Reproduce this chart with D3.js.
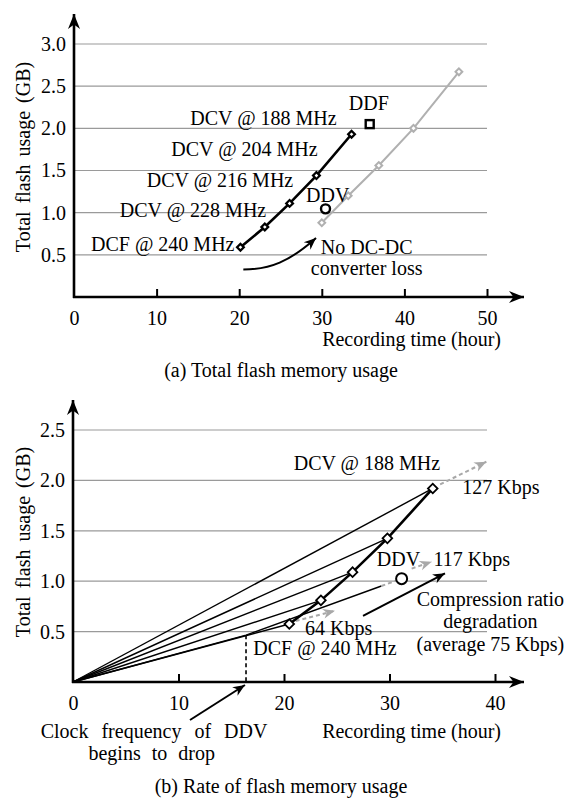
<!DOCTYPE html>
<html>
<head>
<meta charset="utf-8">
<script src="https://cdn.jsdelivr.net/npm/d3@7"></script>
<style>
  body { margin: 0; background: #fff; }
  svg text { font-family: "Liberation Serif", "Times New Roman", serif; font-size: 20px; fill: #000; }
</style>
</head>
<body>
<svg id="chart" width="579" height="800"></svg>
<script>
// (a) total flash memory usage
var topXTicks = [0, 10, 20, 30, 40, 50];
var topYTicks = [0.5, 1.0, 1.5, 2.0, 2.5, 3.0];
var topDcvHours = [20.15, 23.1, 26.1, 29.35, 33.6];
var topDcvGB = [0.59, 0.83, 1.11, 1.44, 1.93];
var topDcvLabels = ["DCF @ 240 MHz", "DCV @ 228 MHz", "DCV @ 216 MHz", "DCV @ 204 MHz", "DCV @ 188 MHz"];
var topNoLossHours = [30.0, 33.2, 36.9, 41.1, 46.6];
var topNoLossGB = [0.88, 1.2, 1.56, 2.0, 2.67];
var topDdfHours = [35.8], topDdfGB = [2.05];
var topDdvHours = [30.45], topDdvGB = [1.045];

// (b) rate of flash memory usage
var botXTicks = [0, 10, 20, 30, 40];
var botYTicks = [0.5, 1.0, 1.5, 2.0, 2.5];
var botDcvHours = [20.5, 23.5, 26.5, 29.8, 34.1];
var botDcvGB = [0.575, 0.81, 1.09, 1.425, 1.92];
var botDdvHours = [0, 16.4, 31.15];
var botDdvGB = [0, 0.465, 1.025];
var rateLabels = ["64 Kbps", "117 Kbps", "127 Kbps"];

var svg = d3.select("#chart");
var defs = svg.append("defs");

function addArrow(id, color, len, half) {
    defs.append("marker")
        .attr("id", id)
        .attr("markerUnits", "userSpaceOnUse")
        .attr("orient", "auto")
        .attr("markerWidth", len + 2).attr("markerHeight", half * 2 + 2)
        .attr("viewBox", (-len - 1) + " " + (-half - 1) + " " + (len + 2) + " " + (half * 2 + 2))
        .attr("refX", 0).attr("refY", 0)
        .append("path")
        .attr("d", "M0,0 L" + (-len) + "," + (-half) + " L" + (-len * 0.7) + ",0 L" + (-len) + "," + half + " Z")
        .attr("fill", color);
}
addArrow("axisArrow", "#000", 15, 6);
addArrow("blackArrow", "#000", 12, 5);
addArrow("grayArrow", "#a8a8a8", 12, 5);

function frame(x, y, xTicks, yTicks, gridEnd, arrowX, arrowTop) {
    var g = svg.append("g");
    // gridlines
    g.selectAll(".grid").data(yTicks).enter().append("line")
        .attr("x1", x(0)).attr("x2", gridEnd)
        .attr("y1", function(d) { return y(d); })
        .attr("y2", function(d) { return y(d); })
        .attr("stroke", "#9a9a9a").attr("stroke-width", 1.2);

    // x ticks + labels
    var xAxis = d3.axisBottom(x).tickValues(xTicks).tickSize(-8).tickPadding(14)
        .tickFormat(d3.format("d"));
    var gx = g.append("g").attr("transform", "translate(0," + y(0) + ")").call(xAxis);
    gx.select(".domain").remove();
    gx.selectAll(".tick line").attr("stroke", "#000").attr("stroke-width", 2);
    gx.selectAll(".tick").filter(function(d) { return d === 0; }).select("line").remove();
    gx.attr("font-size", null).attr("font-family", null);

    // y labels
    var yAxis = d3.axisLeft(y).tickValues(yTicks).tickSize(0).tickPadding(8)
        .tickFormat(d3.format(".1f"));
    var gy = g.append("g").attr("transform", "translate(" + x(0) + ",0)").call(yAxis);
    gy.select(".domain").remove();
    gy.attr("font-size", null).attr("font-family", null);

    // axis lines with arrows
    g.append("line").attr("x1", x(0) - 1).attr("x2", arrowX)
        .attr("y1", y(0)).attr("y2", y(0))
        .attr("stroke", "#000").attr("stroke-width", 2.6).attr("marker-end", "url(#axisArrow)");
    g.append("line").attr("x1", x(0)).attr("x2", x(0))
        .attr("y1", y(0) + 1).attr("y2", arrowTop)
        .attr("stroke", "#000").attr("stroke-width", 2.6).attr("marker-end", "url(#axisArrow)");
    return g;
}

function text(g, label, px, py, anchor, extra) {
    var t = g.append("text").attr("x", px).attr("y", py).attr("text-anchor", anchor || "start").text(label);
    if (extra) t.attr("word-spacing", extra);
    return t;
}

function diamond(h) {
    return d3.symbol(d3.symbolSquare, 2 * h * h)();
}

// ---------- (a) ----------
var xa = d3.scaleLinear().domain([0, 50]).range([74, 487]);
var ya = d3.scaleLinear().domain([0, 3]).range([297, 44]);
var ga = frame(xa, ya, topXTicks, topYTicks, xa(50), 524, 14);

var lineA = d3.line()
    .x(function(d) { return xa(d[0]); })
    .y(function(d) { return ya(d[1]); });

var noLoss = d3.zip(topNoLossHours, topNoLossGB);
ga.append("path").datum(noLoss).attr("d", lineA)
    .attr("fill", "none").attr("stroke", "#b0b0b0").attr("stroke-width", 2);
ga.selectAll(".nl").data(noLoss).enter().append("path")
    .attr("d", diamond(3.4))
    .attr("transform", function(d) { return "translate(" + xa(d[0]) + "," + ya(d[1]) + ") rotate(45)"; })
    .attr("fill", "#fff").attr("stroke", "#b0b0b0").attr("stroke-width", 2);

var dcvA = d3.zip(topDcvHours, topDcvGB);
ga.append("path").datum(dcvA).attr("d", lineA)
    .attr("fill", "none").attr("stroke", "#000").attr("stroke-width", 2.6);
ga.selectAll(".dcv").data(dcvA).enter().append("path")
    .attr("d", diamond(3.4))
    .attr("transform", function(d) { return "translate(" + xa(d[0]) + "," + ya(d[1]) + ") rotate(45)"; })
    .attr("fill", "#fff").attr("stroke", "#000").attr("stroke-width", 2.2);

ga.selectAll(".ddf").data(d3.zip(topDdfHours, topDdfGB)).enter().append("rect")
    .attr("x", function(d) { return xa(d[0]) - 4; })
    .attr("y", function(d) { return ya(d[1]) - 4; })
    .attr("width", 8).attr("height", 8)
    .attr("fill", "#fff").attr("stroke", "#000").attr("stroke-width", 2.4);
ga.selectAll(".ddv").data(d3.zip(topDdvHours, topDdvGB)).enter().append("circle")
    .attr("cx", function(d) { return xa(d[0]); })
    .attr("cy", function(d) { return ya(d[1]); })
    .attr("r", 4.5)
    .attr("fill", "#fff").attr("stroke", "#000").attr("stroke-width", 2.4);

// labels for (a)
var labPosA = [[19.43, 0.551], [23.27, 0.945], [26.54, 1.30], [29.5, 1.668], [31.8, 2.044]];
topDcvLabels.forEach(function(l, i) {
    text(ga, l, xa(labPosA[i][0]), ya(labPosA[i][1]), "end");
});
text(ga, "DDF", xa(35.7), ya(2.22), "middle");
text(ga, "DDV", xa(28.1), ya(1.123), "start");
text(ga, "No DC-DC", xa(29.88), ya(0.515), "start");
text(ga, "converter loss", xa(28.67), ya(0.255), "start");
var c = [[20.5, 0.325], [23.7, 0.325], [26.1, 0.42], [29.3, 0.70]];
ga.append("path")
    .attr("d", "M" + xa(c[0][0]) + "," + ya(c[0][1]) +
        " C" + xa(c[1][0]) + "," + ya(c[1][1]) + " " + xa(c[2][0]) + "," + ya(c[2][1]) +
        " " + xa(c[3][0]) + "," + ya(c[3][1]))
    .attr("fill", "none").attr("stroke", "#000").attr("stroke-width", 2)
    .attr("marker-end", "url(#blackArrow)");

text(ga, "Recording time (hour)", 501, 345.5, "end");
text(ga, "(a) Total flash memory usage", 281, 377, "middle");
ga.append("text").attr("transform", "translate(30,157) rotate(-90)")
    .attr("text-anchor", "middle").attr("word-spacing", 3).text("Total flash usage (GB)");

// ---------- (b) ----------
var xb = d3.scaleLinear().domain([0, 40]).range([73, 495]);
var yb = d3.scaleLinear().domain([0, 2.5]).range([682, 430]);
var gb = frame(xb, yb, botXTicks, botYTicks, 487, 524, 400);

var lineB = d3.line()
    .x(function(d) { return xb(d[0]); })
    .y(function(d) { return yb(d[1]); });

var dcvB = d3.zip(botDcvHours, botDcvGB);
// rays from origin
gb.selectAll(".ray").data(dcvB).enter().append("path")
    .attr("d", function(d) { return lineB([[0, 0], d]); })
    .attr("fill", "none").attr("stroke", "#000").attr("stroke-width", 1.4);

// DDV path: solid up to near the circle, last stretch dashed gray
var ddvB = d3.zip(botDdvHours, botDdvGB);
var ddvBreak = d3.interpolate(ddvB[1], ddvB[2])(0.87);
gb.append("path").datum([ddvB[0], ddvB[1], ddvBreak]).attr("d", lineB)
    .attr("fill", "none").attr("stroke", "#000").attr("stroke-width", 1.4);
gb.append("path").datum([ddvBreak, ddvB[2]]).attr("d", lineB)
    .attr("fill", "none").attr("stroke", "#a8a8a8").attr("stroke-width", 2)
    .attr("stroke-dasharray", "4,3");
gb.append("line")
    .attr("x1", xb(botDdvHours[1])).attr("x2", xb(botDdvHours[1]))
    .attr("y1", yb(botDdvGB[1])).attr("y2", yb(0))
    .attr("stroke", "#000").attr("stroke-width", 1.6).attr("stroke-dasharray", "4,3");

// gray dashed rate arrows
var rateArrows = [
    [[botDcvHours[0] + 0.6, botDcvGB[0] + 0.03], [24.83, 0.707]],
    [[32.1, 1.125], [34.0, 1.193]],
    [[botDcvHours[4] + 0.7, botDcvGB[4] + 0.04], [39.18, 2.185]]
];
gb.selectAll(".rate").data(rateArrows).enter().append("path")
    .attr("d", lineB)
    .attr("fill", "none").attr("stroke", "#a8a8a8").attr("stroke-width", 2)
    .attr("stroke-dasharray", "4,3").attr("marker-end", "url(#grayArrow)");

gb.append("path").datum(dcvB).attr("d", lineB)
    .attr("fill", "none").attr("stroke", "#000").attr("stroke-width", 2.6);
gb.selectAll(".dcvb").data(dcvB).enter().append("path")
    .attr("d", diamond(4.8))
    .attr("transform", function(d) { return "translate(" + xb(d[0]) + "," + yb(d[1]) + ") rotate(45)"; })
    .attr("fill", "#fff").attr("stroke", "#000").attr("stroke-width", 1.8);
gb.append("circle")
    .attr("cx", xb(botDdvHours[2])).attr("cy", yb(botDdvGB[2])).attr("r", 5.5)
    .attr("fill", "#fff").attr("stroke", "#000").attr("stroke-width", 2);

// black annotation arrows
gb.append("path").attr("d", lineB([[27.49, 0.655], [35.26, 1.078]]))
    .attr("stroke", "#000").attr("stroke-width", 2).attr("marker-end", "url(#blackArrow)");
gb.append("path").attr("d", lineB([[11.09, -0.377], [16.3, -0.03]]))
    .attr("stroke", "#000").attr("stroke-width", 2).attr("marker-end", "url(#blackArrow)");

text(gb, "DCV @ 188 MHz", xb(34.8), yb(2.103), "end");
text(gb, rateLabels[2], xb(36.9), yb(1.865), "start");
text(gb, "DDV", xb(28.8), yb(1.151), "start");
text(gb, rateLabels[1], xb(34.17), yb(1.151), "start");
text(gb, "Compression ratio", xb(39.56), yb(0.754), "middle");
text(gb, "degradation", xb(39.56), yb(0.533), "middle");
text(gb, "(average 75 Kbps)", xb(39.56), yb(0.3075), "middle");
text(gb, rateLabels[0], xb(22.0), yb(0.466), "start");
text(gb, "DCF @ 240 MHz", xb(17.09), yb(0.268), "start");
text(gb, "Clock frequency of DDV", xb(7.68), yb(-0.558), "middle", 8);
text(gb, "begins to drop", xb(7.46), yb(-0.774), "middle", 6);

text(gb, "Recording time (hour)", 501, 738, "end");
text(gb, "(b) Rate of flash memory usage", 281, 793, "middle");
gb.append("text").attr("transform", "translate(30,542) rotate(-90)")
    .attr("text-anchor", "middle").attr("word-spacing", 3).text("Total flash usage (GB)");
</script>
</body>
</html>
